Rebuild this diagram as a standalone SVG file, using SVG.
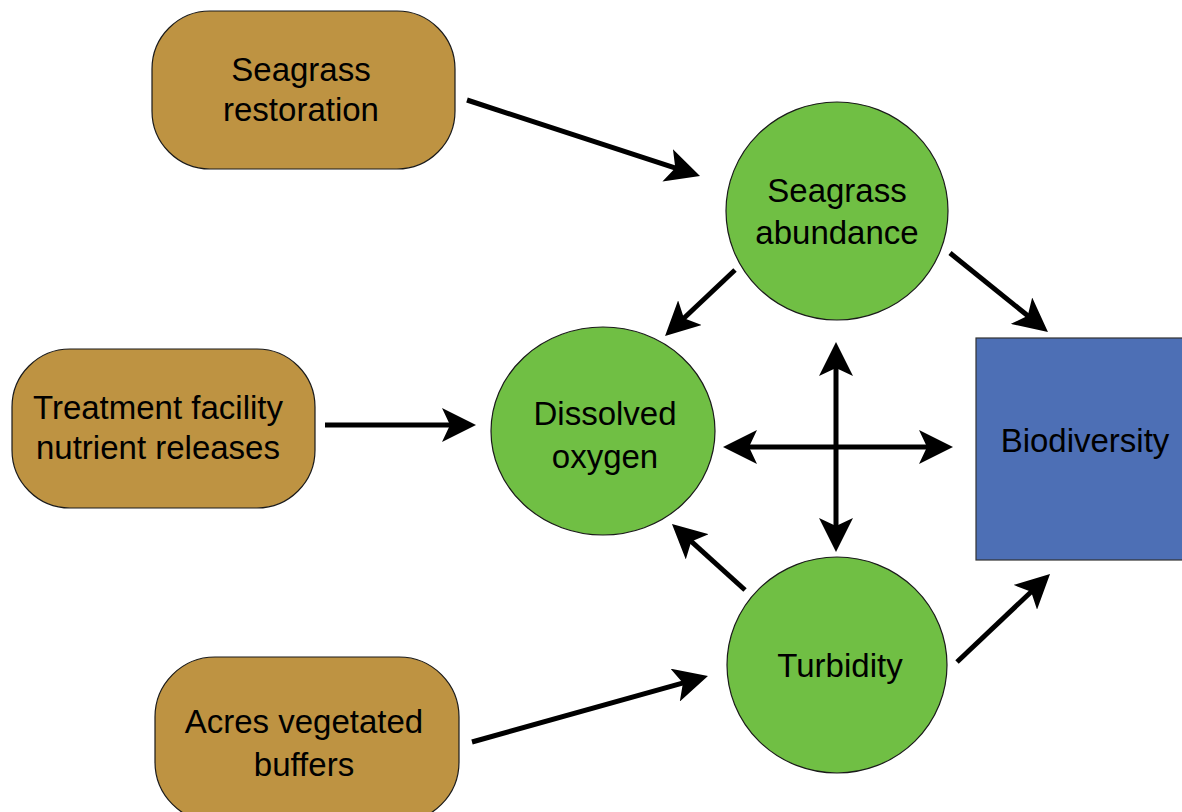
<svg xmlns="http://www.w3.org/2000/svg" width="1182" height="812" viewBox="0 0 1182 812">
<style>
.box{fill:#BE9342;stroke:#1a1a1a;stroke-width:1.2}
.circ{fill:#70BF44;stroke:#1a1a1a;stroke-width:1.2}
.bio{fill:#4D6FB5;stroke:#333;stroke-width:1.2}
text{font-family:"Liberation Sans",Arial,sans-serif;font-size:33px;fill:#000;text-anchor:middle}
.conn line{stroke:#000;stroke-width:5;fill:none}
.one{marker-end:url(#ah)}
.two{marker-start:url(#ah);marker-end:url(#ah)}
</style>
<defs>
<marker id="ah" markerUnits="userSpaceOnUse" viewBox="0 -17 34 34" refX="14" refY="0" markerWidth="34" markerHeight="34" orient="auto-start-reverse">
<path d="M0,-17 L34,0 L0,17 L8,0 Z" fill="#000"/>
</marker>
</defs>
<rect width="1182" height="812" fill="#fff"/>
<g id="seagrass-restoration"><rect class="box" x="152" y="11" width="303" height="158" rx="58" ry="58"/><text x="301" y="81">Seagrass</text><text x="301" y="121">restoration</text></g>
<g id="treatment"><rect class="box" x="12" y="349" width="303" height="159" rx="58" ry="58"/><text x="158" y="419">Treatment facility</text><text x="158" y="459">nutrient releases</text></g>
<g id="acres"><rect class="box" x="155" y="657" width="304" height="165" rx="60" ry="60"/><text x="304" y="733">Acres vegetated</text><text x="304" y="776">buffers</text></g>
<g id="seagrass-abundance"><ellipse class="circ" cx="837" cy="211" rx="111" ry="109"/><text x="837" y="202">Seagrass</text><text x="837" y="244">abundance</text></g>
<g id="dissolved-oxygen"><ellipse class="circ" cx="603" cy="431" rx="112" ry="104"/><text x="605" y="425">Dissolved</text><text x="605" y="468">oxygen</text></g>
<g id="turbidity"><ellipse class="circ" cx="837" cy="665" rx="110" ry="108"/><text x="840" y="677">Turbidity</text></g>
<g id="biodiversity"><rect class="bio" x="976" y="338" width="210" height="222"/><text x="1085" y="452">Biodiversity</text></g>
<g id="connectors" class="conn">
<line class="one" x1="467" y1="100" x2="681" y2="169.8"/>
<line class="one" x1="735" y1="270" x2="679.6" y2="322.3"/>
<line class="one" x1="950" y1="253" x2="1032.4" y2="319.5"/>
<line class="one" x1="325" y1="425" x2="456" y2="425"/>
<line class="two" x1="836" y1="362" x2="836" y2="532"/>
<line class="two" x1="743" y1="447" x2="933" y2="447"/>
<line class="one" x1="745" y1="590" x2="686.8" y2="537.4"/>
<line class="one" x1="957" y1="662" x2="1035.5" y2="587.7"/>
<line class="one" x1="472" y1="742" x2="688.7" y2="681.4"/>
</g>
</svg>
